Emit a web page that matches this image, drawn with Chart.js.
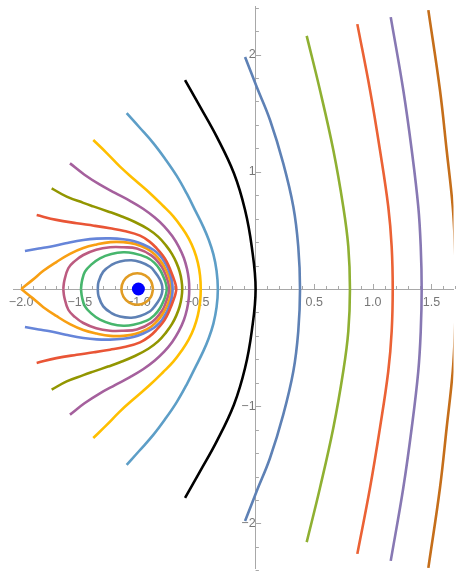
<!DOCTYPE html>
<html>
<head>
<meta charset="utf-8">
<script src="https://cdn.jsdelivr.net/npm/chart.js@4.4.1/dist/chart.umd.min.js"></script>
<style>
  html, body { margin: 0; padding: 0; background: #fff; }
  #wrap { width: 460px; height: 575px; }
</style>
</head>
<body>
<div id="wrap"><canvas id="plot" width="460" height="575"></canvas></div>
<script>
// Tick values and labels
const xTickValues = [-2.0, -1.5, -1.0, -0.5, 0.5, 1.0, 1.5];
const xTickLabels = ['\u22122.0', '\u22121.5', '\u22121.0', '\u22120.5', '0.5', '1.0', '1.5'];
const yTickValues = [-2, -1, 1, 2];
const yTickLabels = ['\u22122', '\u22121', '1', '2'];

// Point charge
const chargePoint = [[-1, 0]];

// Curves right of the charge
const blueRight = [[-0.09,1.98],[0.009,1.726],[0.123,1.442],[0.236,1.072],[0.322,0.702],[0.364,0.361],[0.379,0],
  [0.364,-0.361],[0.322,-0.702],[0.236,-1.072],[0.123,-1.442],[0.009,-1.726],[-0.09,-1.98]];
const greenRight = [[0.436,2.16],[0.549,1.698],[0.663,1.186],[0.748,0.702],[0.791,0.361],[0.805,0],
  [0.791,-0.361],[0.748,-0.702],[0.663,-1.186],[0.549,-1.698],[0.436,-2.16]];
const redRight = [[0.868,2.26],[0.976,1.698],[1.061,1.186],[1.132,0.702],[1.161,0.361],[1.17,0],
  [1.161,-0.361],[1.132,-0.702],[1.061,-1.186],[0.976,-1.698],[0.868,-2.26]];
const purpleRight = [[1.153,2.32],[1.26,1.698],[1.332,1.186],[1.388,0.702],[1.409,0.361],[1.417,0],
  [1.409,-0.361],[1.388,-0.702],[1.332,-1.186],[1.26,-1.698],[1.153,-2.32]];
const orangeRight = [[1.474,2.38],[1.573,1.698],[1.63,1.186],[1.682,0.702],[1.701,0.361],[1.71,0],
  [1.701,-0.361],[1.682,-0.702],[1.63,-1.186],[1.573,-1.698],[1.474,-2.38]];
const blackLine = [[-0.602,1.783],[-0.474,1.556],[-0.332,1.30],[-0.185,0.987],[-0.09,0.674],[-0.033,0.361],[0,0],
  [-0.033,-0.361],[-0.09,-0.674],[-0.185,-0.987],[-0.332,-1.30],[-0.474,-1.556],[-0.602,-1.783]];

// Open curves left of the black line
const lightBlue = [[-1.10,1.50],[-0.99,1.378],[-0.873,1.245],[-0.77,1.108],[-0.673,0.965],[-0.588,0.815],[-0.51,0.66],
  [-0.446,0.53],[-0.40,0.42],[-0.36,0.295],[-0.333,0.155],[-0.322,0],
  [-0.333,-0.155],[-0.36,-0.295],[-0.40,-0.42],[-0.446,-0.53],[-0.51,-0.66],[-0.588,-0.815],[-0.673,-0.965],
  [-0.77,-1.108],[-0.873,-1.245],[-0.99,-1.378],[-1.10,-1.50]];
const yellow = [[-1.385,1.271],[-1.27,1.16],[-1.157,1.044],[-1.03,0.93],[-0.901,0.817],[-0.79,0.71],[-0.702,0.62],
  [-0.63,0.525],[-0.57,0.43],[-0.525,0.33],[-0.493,0.225],[-0.474,0.115],[-0.468,0],
  [-0.474,-0.115],[-0.493,-0.225],[-0.525,-0.33],[-0.57,-0.43],[-0.63,-0.525],[-0.702,-0.62],[-0.79,-0.71],
  [-0.901,-0.817],[-1.03,-0.93],[-1.157,-1.044],[-1.27,-1.16],[-1.385,-1.271]];
const magenta = [[-1.584,1.072],[-1.46,0.975],[-1.328,0.89],[-1.20,0.82],[-1.072,0.752],[-0.96,0.685],[-0.86,0.61],
  [-0.78,0.535],[-0.71,0.45],[-0.655,0.36],[-0.612,0.265],[-0.585,0.17],[-0.57,0.08],[-0.566,0],
  [-0.57,-0.08],[-0.585,-0.17],[-0.612,-0.265],[-0.655,-0.36],[-0.71,-0.45],[-0.78,-0.535],[-0.86,-0.61],
  [-0.96,-0.685],[-1.072,-0.752],[-1.20,-0.82],[-1.328,-0.89],[-1.46,-0.975],[-1.584,-1.072]];
const olive = [[-1.74,0.859],[-1.612,0.788],[-1.47,0.735],[-1.385,0.705],[-1.26,0.662],[-1.157,0.625],[-1.03,0.572],
  [-0.915,0.51],[-0.83,0.445],[-0.765,0.372],[-0.713,0.298],[-0.676,0.225],[-0.648,0.148],[-0.632,0.074],[-0.626,0],
  [-0.632,-0.074],[-0.648,-0.148],[-0.676,-0.225],[-0.713,-0.298],[-0.765,-0.372],[-0.83,-0.445],[-0.915,-0.51],
  [-1.03,-0.572],[-1.157,-0.625],[-1.26,-0.662],[-1.385,-0.705],[-1.47,-0.735],[-1.612,-0.788],[-1.74,-0.859]];
const red = [[-1.868,0.631],[-1.70,0.59],[-1.526,0.561],[-1.38,0.54],[-1.242,0.518],[-1.12,0.495],[-0.986,0.455],
  [-0.90,0.40],[-0.844,0.347],[-0.795,0.29],[-0.759,0.233],[-0.727,0.163],[-0.703,0.1],[-0.686,0.05],[-0.677,0],
  [-0.686,-0.05],[-0.703,-0.1],[-0.727,-0.163],[-0.759,-0.233],[-0.795,-0.29],[-0.844,-0.347],[-0.90,-0.40],
  [-0.986,-0.455],[-1.12,-0.495],[-1.242,-0.518],[-1.38,-0.54],[-1.526,-0.561],[-1.70,-0.59],[-1.868,-0.631]];
const blue = [[-1.968,0.324],[-1.85,0.345],[-1.754,0.361],[-1.62,0.39],[-1.47,0.418],[-1.356,0.43],[-1.242,0.432],
  [-1.13,0.425],[-1.043,0.41],[-0.958,0.38],[-0.873,0.335],[-0.82,0.29],[-0.785,0.243],[-0.752,0.185],[-0.73,0.13],
  [-0.714,0.068],[-0.708,0],
  [-0.714,-0.068],[-0.73,-0.13],[-0.752,-0.185],[-0.785,-0.243],[-0.82,-0.29],[-0.873,-0.335],[-0.958,-0.38],
  [-1.043,-0.41],[-1.13,-0.425],[-1.242,-0.432],[-1.356,-0.43],[-1.47,-0.418],[-1.62,-0.39],[-1.754,-0.361],
  [-1.85,-0.345],[-1.968,-0.324]];

// Closed curves around the charge
const orangeCusp = [[-2,0],[-1.90,0.08],[-1.811,0.155],[-1.70,0.23],[-1.584,0.30],[-1.47,0.35],[-1.356,0.38],
  [-1.24,0.40],[-1.129,0.40],[-1.03,0.385],[-0.929,0.345],[-0.86,0.295],[-0.801,0.225],[-0.763,0.16],[-0.738,0.1],
  [-0.723,0.048],[-0.718,0],
  [-0.723,-0.048],[-0.738,-0.1],[-0.763,-0.16],[-0.801,-0.225],[-0.86,-0.295],[-0.929,-0.345],[-1.03,-0.385],
  [-1.129,-0.40],[-1.24,-0.40],[-1.356,-0.38],[-1.47,-0.35],[-1.584,-0.30],[-1.70,-0.23],[-1.811,-0.155],
  [-1.90,-0.08],[-2,0]];
const pinkLoop = [[-1.641,0],[-1.632,0.07],[-1.598,0.177],[-1.54,0.24],[-1.47,0.29],[-1.36,0.335],[-1.242,0.356],
  [-1.13,0.356],[-1.014,0.345],[-0.887,0.285],[-0.801,0.19],[-0.762,0.105],[-0.743,0.045],[-0.737,0],
  [-0.743,-0.045],[-0.762,-0.105],[-0.801,-0.19],[-0.887,-0.285],[-1.014,-0.345],[-1.13,-0.356],[-1.242,-0.356],
  [-1.36,-0.335],[-1.47,-0.29],[-1.54,-0.24],[-1.598,-0.177],[-1.632,-0.07],[-1.641,0]];
const greenLoop = [[-1.49,0],[-1.481,0.07],[-1.456,0.148],[-1.40,0.21],[-1.328,0.262],[-1.23,0.298],[-1.129,0.313],
  [-1.043,0.305],[-0.929,0.27],[-0.865,0.225],[-0.816,0.164],[-0.782,0.095],[-0.764,0.042],[-0.758,0],
  [-0.764,-0.042],[-0.782,-0.095],[-0.816,-0.164],[-0.865,-0.225],[-0.929,-0.27],[-1.043,-0.305],[-1.129,-0.313],
  [-1.23,-0.298],[-1.328,-0.262],[-1.40,-0.21],[-1.456,-0.148],[-1.481,-0.07],[-1.49,0]];
const steelLoop = [[-1.347,0],[-1.34,0.06],[-1.30,0.148],[-1.23,0.205],[-1.157,0.235],[-1.06,0.245],[-0.986,0.23],
  [-0.90,0.19],[-0.855,0.14],[-0.818,0.085],[-0.8,0.04],[-0.795,0],
  [-0.8,-0.04],[-0.818,-0.085],[-0.855,-0.14],[-0.90,-0.19],[-0.986,-0.23],[-1.06,-0.245],[-1.157,-0.235],
  [-1.23,-0.205],[-1.30,-0.148],[-1.34,-0.06],[-1.347,0]];
const smallRing = [[-0.875,0],[-0.893,0.068],[-0.942,0.117],[-1.01,0.135],[-1.078,0.117],[-1.127,0.068],[-1.145,0],
  [-1.127,-0.068],[-1.078,-0.117],[-1.01,-0.135],[-0.942,-0.117],[-0.893,-0.068],[-0.875,0]];

// Curve / colour table
const curveList = [
  [blueRight, '#5E81B5'], [smallRing, '#E19C24'], [greenRight, '#8FB032'], [redRight, '#EB6235'],
  [purpleRight, '#8778B3'], [orangeRight, '#C56E1A'], [lightBlue, '#5D9EC7'], [yellow, '#FFBF00'],
  [magenta, '#A5609D'], [olive, '#929600'], [red, '#E95536'], [blue, '#6685D9'],
  [orangeCusp, '#F89F13'], [pinkLoop, '#BC5B80'], [greenLoop, '#47B66D'], [steelLoop, '#5E81B5'],
  [blackLine, '#000000']
];

// Where the origin sits on the page and how many pixels make one unit
const originPx = {x: 255.6, y: 289};
const unitPx = 117.2;

const toXY = pts => pts.map(p => ({x: p[0], y: p[1]}));

// Small tick marks drawn along the centred axes
const tickMarks = {
    id: 'tickMarks',
    beforeDatasetsDraw(chart) {
        const {ctx, scales: {x, y}} = chart;
        const x0 = x.getPixelForValue(0);
        const y0 = y.getPixelForValue(0);
        ctx.save();
        ctx.strokeStyle = '#a8a8a8';
        ctx.lineWidth = 1;
        ctx.beginPath();
        for (let i = -20; i <= 17; i++) {
            if (i === 0) continue;
            const px = Math.round(x.getPixelForValue(i / 10)) + 0.5;
            const len = (i % 5 === 0) ? 5 : 3;
            ctx.moveTo(px, y0);
            ctx.lineTo(px, y0 - len);
        }
        for (let j = -12; j <= 12; j++) {
            if (j === 0) continue;
            const py = Math.round(y.getPixelForValue(j / 5)) + 0.5;
            const len = (j % 5 === 0) ? 5.5 : 3.3;
            ctx.moveTo(x0, py);
            ctx.lineTo(x0 + len, py);
        }
        ctx.stroke();
        ctx.restore();
    }
};

const datasets = [{
    data: toXY(chargePoint),
    showLine: false,
    pointRadius: 6.5,
    pointBackgroundColor: '#0000FF',
    pointBorderWidth: 0
}].concat(curveList.map(c => ({
    data: toXY(c[0]),
    showLine: true,
    borderColor: c[1],
    borderWidth: 2.6,
    pointRadius: 0,
    tension: 0.4,
    fill: false
})));

const labelFont = {family: "'Liberation Sans', Arial, sans-serif", size: 12.5};

const chart = new Chart(document.getElementById('plot'), {
    type: 'scatter',
    data: {datasets: datasets},
    options: {
        responsive: false,
        animation: false,
        devicePixelRatio: 1,
        layout: {padding: {left: 13, top: 3, right: -6, bottom: -8}},
        plugins: {legend: {display: false}, tooltip: {enabled: false}},
        scales: {
            x: {
                type: 'linear',
                position: {y: 0},
                min: -2.07,
                max: 1.745,
                afterBuildTicks: axis => { axis.ticks = xTickValues.map(v => ({value: v})); },
                afterFit: axis => { axis.height = 0; axis.paddingLeft = 0; axis.paddingRight = 0; },
                grid: {display: false, drawTicks: false},
                border: {color: '#a8a8a8', width: 1},
                ticks: {
                    autoSkip: false,
                    maxRotation: 0,
                    padding: 6,
                    color: '#777777',
                    font: labelFont,
                    callback: (v, i) => xTickLabels[i]
                }
            },
            y: {
                type: 'linear',
                position: {x: 0},
                min: -2.44,
                max: 2.44,
                afterBuildTicks: axis => { axis.ticks = yTickValues.map(v => ({value: v})); },
                afterFit: axis => { axis.width = 0; axis.paddingTop = 0; axis.paddingBottom = 0; },
                grid: {display: false, drawTicks: false},
                border: {color: '#a8a8a8', width: 1},
                ticks: {
                    autoSkip: false,
                    padding: 6,
                    color: '#777777',
                    font: labelFont,
                    callback: (v, i) => yTickLabels[i]
                }
            }
        }
    },
    plugins: [tickMarks]
});

// Fit the axis ranges to the chart area so one unit is the same length on both axes
const area = chart.chartArea;
chart.options.scales.x.min = (area.left - originPx.x) / unitPx;
chart.options.scales.x.max = (area.right - originPx.x) / unitPx;
chart.options.scales.y.max = (originPx.y - area.top) / unitPx;
chart.options.scales.y.min = (originPx.y - area.bottom) / unitPx;
chart.update();
</script>
</body>
</html>
